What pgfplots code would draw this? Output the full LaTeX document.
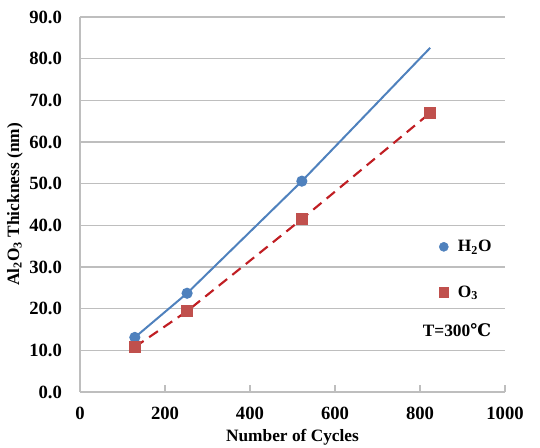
\documentclass[border=0pt]{standalone}
\usepackage{fontspec}
\setmainfont{Liberation Serif}
\newfontfamily\symfont{DejaVu Serif}
\usepackage{pgfplots}
\pgfplotsset{compat=1.18}

\definecolor{h2oblue}{RGB}{79,129,189}
\definecolor{o3red}{RGB}{192,80,77}
\definecolor{o3line}{RGB}{192,30,35}
\definecolor{gridgray}{RGB}{190,190,190}

\begin{document}
\begin{tikzpicture}
\begin{axis}[
  scale only axis,
  width=318.75pt, height=281.25pt,
  xmin=0, xmax=1000, ymin=0, ymax=90,
  xtick={0,200,...,1000},
  ytick={0,10,...,90},
  axis lines=left,
  axis line style={gridgray, line width=0.8pt, -},
  ymajorgrids,
  grid style={gridgray, line width=0.8pt},
  tick align=inside,
  xtick style={gridgray, line width=0.8pt},
  ytick style={draw=none},
  major tick length=5pt,
  tick label style={font=\bfseries\fontsize{14}{16}\selectfont, /pgf/number format/assume math mode=true},
  yticklabel style={/pgf/number format/fixed, /pgf/number format/fixed zerofill, /pgf/number format/precision=1, xshift=-10pt},
  xticklabel style={/pgf/number format/1000 sep={}, yshift=-8pt},
  xlabel={\bfseries\fontsize{13}{15}\selectfont Number of Cycles},
  ylabel={\bfseries\fontsize{13}{15}\selectfont Al\textsubscript{2}O\textsubscript{3} Thickness (nm)},
  xlabel style={yshift=0pt},
  ylabel style={yshift=-2pt},
  legend style={draw=none, fill=none, at={(0.835,0.42)}, anchor=north west,
    font=\bfseries\fontsize{13}{15}\selectfont, row sep=20pt},
  legend cell align=left,
]
\addlegendimage{only marks, mark=*, mark size=3.4pt, color=h2oblue}
\addlegendentry{\hspace{5pt}H\textsubscript{2}O}
\addlegendimage{only marks, mark=square*, mark size=3.5pt, color=o3red}
\addlegendentry{\hspace{5pt}O\textsubscript{3}}

\addplot[forget plot, color=h2oblue, line width=1.5pt, mark=*, mark size=3.4pt,
  mark indices={1,2,3}] coordinates {
  (129,13.1) (252,23.7) (522,50.6) (824,82.6)
};
\addplot[forget plot, color=o3line, line width=1.6pt, dash pattern=on 8pt off 5pt,
  mark=square*, mark size=3.5pt, mark options={solid, fill=o3red, draw=o3red}] coordinates {
  (129,10.8) (252,19.4) (522,41.5) (824,67.0)
};
\node[font=\bfseries\fontsize{13}{15}\selectfont] at (axis cs:887,14.9) {T=300{\symfont ℃}};
\end{axis}
\pgfresetboundingbox
\path (current axis.south west) ++(-60pt,-42pt) rectangle ++(405pt,336pt);
\end{tikzpicture}
\end{document}
